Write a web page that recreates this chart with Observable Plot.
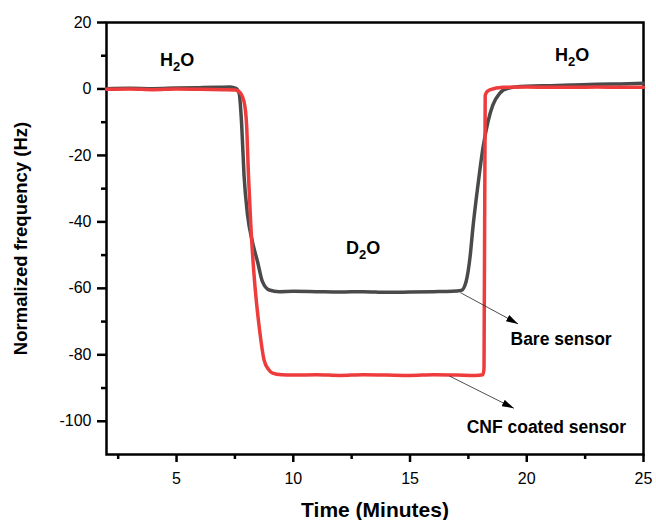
<!DOCTYPE html>
<html><head><meta charset="utf-8">
<script src="https://cdn.jsdelivr.net/npm/d3@7"></script>
<script src="https://cdn.jsdelivr.net/npm/@observablehq/plot@0.6"></script>
<style>body{margin:0;background:#fff} #chart svg{display:block}</style>
</head><body><div id="chart"></div>
<script>
// Bare sensor (dark grey)
const bareTime = [2, 3, 4, 5, 6, 6.8, 7.3, 7.54, 7.68, 7.79, 7.89, 8.04, 8.25, 8.47, 8.68, 8.97, 9.4, 10, 11, 12, 13, 14, 15, 16, 16.8, 17.2, 17.4, 17.58, 17.69, 17.91, 18.12, 18.34, 18.55, 18.84, 19.2, 20, 21, 22, 23, 24, 25];
const bareFreq = [0.1, 0.2, 0.1, 0.3, 0.4, 0.5, 0.6, 0.2, -1.3, -10.8, -25.9, -37.9, -46, -52, -58, -60.5, -61, -60.9, -61, -61.1, -61, -61.2, -61.1, -61, -60.9, -60.6, -58, -50, -42, -28.9, -17.9, -9.8, -4.8, -1.3, 0.2, 0.8, 1.0, 1.2, 1.4, 1.5, 1.7];
// CNF coated sensor (red)
const cnfTime = [2, 3, 4, 5, 6, 7, 7.5, 7.68, 7.89, 8.0, 8.08, 8.18, 8.32, 8.42, 8.54, 8.75, 8.95, 9.11, 9.5, 10, 11, 12, 13, 14, 15, 16, 17, 17.8, 18.12, 18.17, 18.22, 18.3, 18.41, 19, 20, 21, 22, 23, 24, 25];
const cnfFreq = [-0.1, 0, -0.2, 0, -0.1, -0.2, -0.3, -0.8, -3.8, -10.8, -25.9, -40.9, -56, -64, -71.6, -81.6, -84.5, -85.5, -86, -86.1, -86, -86.2, -86, -86.1, -86.2, -86, -86.1, -86.2, -86, -84, -2, -0.8, -0.3, 0.5, 0.6, 0.5, 0.5, 0.6, 0.5, 0.5];

// Axis ticks
const xMajor = [5, 10, 15, 20, 25];
const xMinor = [2.5, 7.5, 12.5, 17.5, 22.5];
const yMajor = [20, 0, -20, -40, -60, -80, -100];
const yMinor = [10, -10, -30, -50, -70, -90];

// Phase annotations (text before "_", subscript digit, rest)
const phaseText = ["H_2O", "D_2O", "H_2O"];
const phaseX = [5.03, 12.99, 21.94];
const phaseY = [8.7, -47.9, 10.2];

// Sensor labels and arrows
const sensorText = ["Bare sensor", "CNF coated sensor"];
const sensorX = [21.47, 20.84];
const sensorY = [-75.3, -101.7];
const arrowX1 = [17.16, 16.69];
const arrowY1 = [-61.3, -86.4];
const arrowX2 = [19.63, 19.45];
const arrowY2 = [-70.7, -96.1];

const bare = bareTime.map((t, i) => ({t, f: bareFreq[i]}));
const cnf = cnfTime.map((t, i) => ({t, f: cnfFreq[i]}));
const phases = phaseText.map((s, i) => ({s, x: phaseX[i], y: phaseY[i]}));
const sensors = sensorText.map((s, i) => ({s, x: sensorX[i], y: sensorY[i]}));
const arrows = arrowX1.map((x1, i) => ({x1, y1: arrowY1[i], x2: arrowX2[i], y2: arrowY2[i]}));

const font = "'Liberation Sans', Arial, Helvetica, sans-serif";

const plot = Plot.plot({
  width: 656,
  height: 520,
  marginLeft: 106,
  marginRight: 13,
  marginTop: 22,
  marginBottom: 66,
  style: {fontFamily: font, fontSize: "16px", background: "white", color: "black"},
  x: {domain: [2, 25]},
  y: {domain: [-110, 20]},
  marks: [
    Plot.axisX(xMajor, {tickSize: 8, tickPadding: 10, strokeWidth: 2.5, label: null, tickFormat: d => String(d), fontSize: 16}),
    Plot.axisX(xMinor, {tickSize: 5, text: null, strokeWidth: 2.5, label: null}),
    Plot.axisY(yMajor, {tickSize: 9, tickPadding: 6, strokeWidth: 2.5, label: null, tickFormat: d => String(d), fontSize: 16}),
    Plot.axisY(yMinor, {tickSize: 5, text: null, strokeWidth: 2.5, label: null}),
    Plot.frame({stroke: "black", strokeWidth: 2.5}),
    Plot.line(bare, {x: "t", y: "f", stroke: "#4a4a4a", strokeWidth: 3.5, curve: "monotone-x"}),
    Plot.line(cnf, {x: "t", y: "f", stroke: "#ee3c3c", strokeWidth: 3.5, curve: "monotone-x"}),
    Plot.link(arrows, {x1: "x1", y1: "y1", x2: "x2", y2: "y2", stroke: "#222", strokeWidth: 0.8, ariaDescription: "arrows"}),
    Plot.text(phases, {x: "x", y: "y", text: "s", fontSize: 18, fontWeight: "bold", fill: "black", lineAnchor: "middle", ariaDescription: "chem"}),
    Plot.text(sensors, {x: "x", y: "y", text: "s", fontSize: 17.5, fontWeight: "bold", fill: "black", lineAnchor: "middle"}),
    Plot.text(["Time (Minutes)"], {frameAnchor: "bottom", text: d => d, dy: 56, fontSize: 21, fontWeight: "bold", fill: "black", textAnchor: "middle", lineAnchor: "middle"}),
    Plot.text(["Normalized frequency (Hz)"], {frameAnchor: "left", text: d => d, dx: -85, rotate: -90, fontSize: 18.5, fontWeight: "bold", fill: "black", textAnchor: "middle", lineAnchor: "middle"})
  ]
});

const svg = d3.select(plot);
let defs = svg.select("defs");
if (defs.empty()) defs = svg.insert("defs", ":first-child");
defs.append("marker")
  .attr("id", "ahead")
  .attr("viewBox", "0 0 12 7")
  .attr("refX", 12).attr("refY", 3.5)
  .attr("markerWidth", 12).attr("markerHeight", 7)
  .attr("markerUnits", "userSpaceOnUse")
  .attr("orient", "auto")
  .append("path").attr("d", "M0,0L12,3.5L0,7Z").attr("fill", "black");

plot.querySelectorAll('[aria-description="arrows"] path, [aria-description="arrows"] line')
  .forEach(el => el.setAttribute("marker-end", "url(#ahead)"));

plot.querySelectorAll('[aria-description="chem"] text').forEach(node => {
  const s = node.textContent;
  if (!s.includes("_")) return;
  const [a, rest] = s.split("_");
  const el = d3.select(node);
  el.text(null);
  el.append("tspan").text(a);
  el.append("tspan").attr("dy", 5).attr("font-size", 13).text(rest[0]);
  el.append("tspan").attr("dy", -5).text(rest.slice(1));
});

document.getElementById("chart").appendChild(plot);
</script></body></html>
